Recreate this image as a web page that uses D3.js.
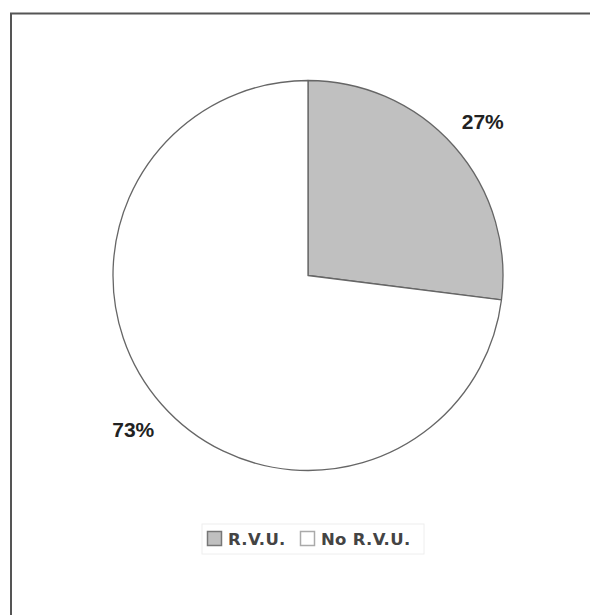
<!DOCTYPE html>
<html>
<head>
<meta charset="utf-8">
<script src="https://cdn.jsdelivr.net/npm/d3@7"></script>
<style>
  body { margin: 0; background: #fff; }
  svg { display: block; }
</style>
</head>
<body>
<div class="container"></div>
<script>
// pie data
var labels = ['R.V.U.', 'No R.V.U.'];
var values = [27, 73];
var colors = ['#c0c0c0', '#ffffff'];

var width = 590, height = 615;
var cx = 308, cy = 275.5, radius = 195;

var svg = d3.select('.container')
  .append('svg')
  .attr('width', width)
  .attr('height', height);

// outer frame
svg.append('path')
  .attr('d', 'M11,615 L11,13.5 L590,13.5')
  .attr('fill', 'none')
  .attr('stroke', '#555')
  .attr('stroke-width', 2);

var pie = d3.pie().sort(null).value(d => d);
var arc = d3.arc().innerRadius(0).outerRadius(radius);
var arcs = pie(values);

var g = svg.append('g').attr('transform', 'translate(' + cx + ',' + cy + ')');

g.selectAll('path.slice')
  .data(arcs)
  .enter().append('path')
  .attr('class', 'slice')
  .attr('d', arc)
  .attr('fill', (d, i) => colors[i])
  .attr('stroke', '#666')
  .attr('stroke-width', 1.3)
  .attr('stroke-linejoin', 'round');

// percent labels, outside the rim
var labelArc = d3.arc().innerRadius(233).outerRadius(233);
g.selectAll('text.pct')
  .data(arcs)
  .enter().append('text')
  .attr('class', 'pct')
  .attr('transform', d => 'translate(' + labelArc.centroid(d) + ')')
  .attr('text-anchor', 'middle')
  .attr('dy', '0.36em')
  .attr('font-family', 'Liberation Sans, Arial, sans-serif')
  .attr('font-weight', 'bold')
  .attr('font-size', 21)
  .attr('fill', '#222')
  .text((d, i) => values[i] + '%');

// legend
var legend = svg.append('g').attr('transform', 'translate(202,524)');
legend.append('rect')
  .attr('width', 222)
  .attr('height', 30)
  .attr('fill', '#fff')
  .attr('stroke', '#eee');

var xs = [5, 98];
labels.forEach(function (l, i) {
  var item = legend.append('g').attr('transform', 'translate(' + xs[i] + ',7)');
  item.append('rect')
    .attr('x', 0.5).attr('y', 0.5)
    .attr('width', 14).attr('height', 14)
    .attr('fill', colors[i])
    .attr('stroke', i === 0 ? '#777' : '#aaa')
    .attr('stroke-width', 1.5);
  item.append('text')
    .attr('x', 21)
    .attr('y', 14)
    .attr('font-family', 'DejaVu Sans, Verdana, sans-serif')
    .attr('font-weight', 'bold')
    .attr('font-size', 16.5)
    .attr('letter-spacing', 0.3)
    .attr('fill', '#444')
    .text(l);
});
</script>
</body>
</html>
